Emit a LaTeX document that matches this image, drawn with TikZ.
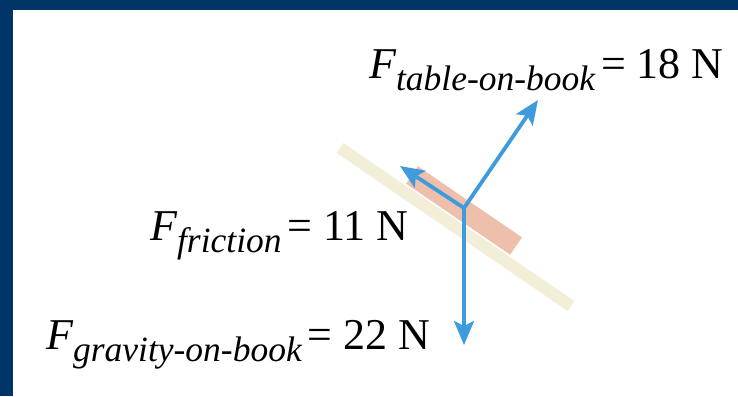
\documentclass[tikz,border=0pt]{standalone}
\usepackage{fontspec}
\setmainfont{Liberation Serif}
\usetikzlibrary{arrows.meta}
\definecolor{framecol}{RGB}{0,51,102}
\definecolor{arrowblue}{RGB}{62,155,220}
\definecolor{bookcol}{RGB}{238,192,172}
\definecolor{plankcol}{RGB}{243,238,216}
\newcommand\Fsub[1]{{\itshape F}\raisebox{-12pt}{\fontsize{35.5}{40}\selectfont\itshape #1}}
\tikzset{
  force/.style={line width=3.8pt, draw=arrowblue, -{Stealth[length=24pt,width=20pt,inset=5pt]}},
  lbl/.style={inner sep=0pt, anchor=base west, font=\fontsize{44}{50}\selectfont},
  plank/.style={line width=12pt, draw=plankcol},
  bookbar/.style={line width=21pt, draw=bookcol}
}
\begin{document}
\begin{tikzpicture}[x=1pt,y=-1pt]
\fill[framecol] (0,0) rectangle (738,396);
\fill[white] (13,10) rectangle (738,396);
\useasboundingbox (0,0) rectangle (738,396);
% incline and book
\coordinate (P1) at (340,148);
\coordinate (P2) at (571,306);
\draw[plank] (P1) -- (P2);
\coordinate (B1) at (412,175);
\coordinate (B2) at (516,246);
\draw[bookbar] (B1) -- (B2);
% forces
\coordinate (O) at (464,208);
\coordinate (Ntip) at (538,100);
\coordinate (Ftip) at (400,166);
\coordinate (Gtip) at (464,345);
\draw[force] (O) -- (Ntip);
\draw[force] (O) -- (Ftip);
\draw[force] (O) -- (Gtip);
% labels
\node[lbl] (Lnormal) at (369,78) {\Fsub{table-on-book}\kern6pt= 18 N};
\node[lbl] (Lfric) at (150,240) {\Fsub{friction}\kern6pt= 11 N};
\node[lbl] (Lgrav) at (46,349) {\Fsub{gravity-on-book}\kern6pt= 22 N};
\end{tikzpicture}
\end{document}
